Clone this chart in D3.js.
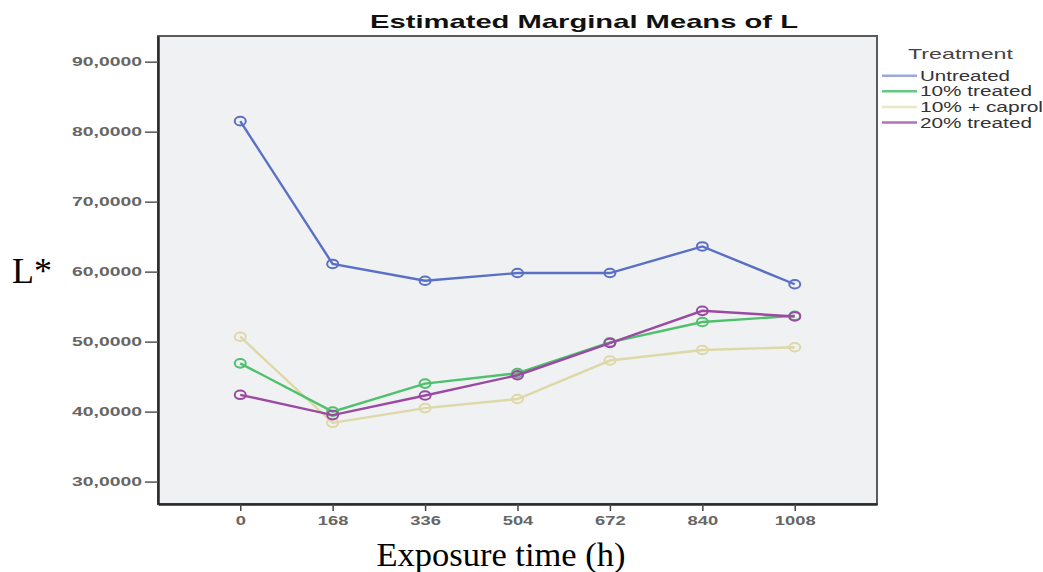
<!DOCTYPE html>
<html>
<head>
<meta charset="utf-8">
<script src="https://cdn.jsdelivr.net/npm/d3@7"></script>
<style>
  html, body { margin: 0; padding: 0; background: #ffffff; }
  svg { display: block; }
</style>
</head>
<body>
<svg id="chart" width="1043" height="572"></svg>
<script>
// Exposure times (h) on the x axis
const times = ["0", "168", "336", "504", "672", "840", "1008"];
// Treatment groups in legend order
const treatments = ["Untreated", "10% treated", "10% + caprol", "20% treated"];
// Estimated marginal means of L* per treatment
const untreated   = [81.5, 61.1, 58.7, 59.8, 59.8, 63.6, 58.2];
const treated10   = [46.9, 40.0, 44.0, 45.5, 49.9, 52.8, 53.7];
const caprol10    = [50.7, 38.4, 40.5, 41.8, 47.3, 48.8, 49.2];
const treated20   = [42.4, 39.5, 42.3, 45.2, 49.8, 54.4, 53.6];
const yTicks = [30, 40, 50, 60, 70, 80, 90];

const seriesValues = [untreated, treated10, caprol10, treated20];
const lineColors   = ["#5a6fc6", "#4fc06c", "#ddd8a6", "#9a4aa0"];
const legendColors = ["#9aa8da", "#66c884", "#ebe7c6", "#b272b8"];
const legendWidths = [90, 112, 123, 112];
const drawOrder = [0, 2, 1, 3];

const svg = d3.select("#chart");
const frame = { left: 158, top: 36, right: 877, bottom: 504 };

const x = d3.scalePoint().domain(times).range([frame.left, frame.right]).padding(0.89);
const y = d3.scaleLinear().domain([26.8, 93.67]).range([frame.bottom, frame.top]);

// fixed-width stretch for the wide sans labels
function stretch(sel, len) {
  sel.attr("textLength", len).attr("lengthAdjust", "spacingAndGlyphs");
}

// plot background
svg.append("rect")
  .attr("x", frame.left).attr("y", frame.top)
  .attr("width", frame.right - frame.left).attr("height", frame.bottom - frame.top)
  .attr("fill", "#f0f1f3")
  .attr("stroke", "#5a5a5a").attr("stroke-width", 2);

// title
const title = svg.append("text")
  .attr("x", 584).attr("y", 28)
  .attr("text-anchor", "middle")
  .attr("font-family", "Liberation Sans, Arial, sans-serif")
  .attr("font-weight", "bold").attr("font-size", 18.5)
  .attr("fill", "#111")
  .text("Estimated Marginal Means of L");
stretch(title, 428);

// y axis
const yAxis = svg.append("g")
  .attr("transform", `translate(${frame.left},0)`)
  .call(d3.axisLeft(y).tickValues(yTicks).tickSize(13).tickSizeOuter(0).tickPadding(3)
    .tickFormat(d => d3.format(".4f")(d).replace(".", ",")));
yAxis.select(".domain").attr("stroke", "#2a2a2a").attr("stroke-width", 2.5);
yAxis.selectAll(".tick line").attr("stroke", "#555").attr("stroke-width", 1.5);
yAxis.selectAll(".tick text")
  .attr("font-family", "Liberation Sans, Arial, sans-serif")
  .attr("font-weight", "bold").attr("font-size", 13)
  .attr("fill", "#666")
  .attr("textLength", 70).attr("lengthAdjust", "spacingAndGlyphs");

// x axis
const xAxis = svg.append("g")
  .attr("transform", `translate(0,${frame.bottom})`)
  .call(d3.axisBottom(x).tickSize(7).tickSizeOuter(0).tickPadding(5));
xAxis.select(".domain").attr("stroke", "#2a2a2a").attr("stroke-width", 2.5);
xAxis.selectAll(".tick line").attr("stroke", "#444").attr("stroke-width", 1.5);
xAxis.selectAll(".tick text")
  .attr("font-family", "Liberation Sans, Arial, sans-serif")
  .attr("font-weight", "bold").attr("font-size", 13)
  .attr("fill", "#666")
  .attr("textLength", d => d.length * 10.2).attr("lengthAdjust", "spacingAndGlyphs");

// lines and open-circle markers
const line = d3.line().x((d, i) => x(times[i])).y(d => y(d));
drawOrder.forEach(k => {
  const g = svg.append("g");
  g.append("path")
    .datum(seriesValues[k])
    .attr("d", line)
    .attr("fill", "none")
    .attr("stroke", lineColors[k])
    .attr("stroke-width", 2.4);
  g.selectAll("ellipse")
    .data(seriesValues[k])
    .join("ellipse")
    .attr("cx", (d, i) => x(times[i]))
    .attr("cy", d => y(d))
    .attr("rx", 5.5).attr("ry", 4.3)
    .attr("fill", "none")
    .attr("stroke", lineColors[k])
    .attr("stroke-width", 2);
});

// legend
const legend = svg.append("g");
const lt = legend.append("text")
  .attr("x", 908).attr("y", 59)
  .attr("font-family", "Liberation Sans, Arial, sans-serif")
  .attr("font-size", 15).attr("fill", "#444")
  .text("Treatment");
stretch(lt, 105);
treatments.forEach((name, i) => {
  const yy = 75.7 + i * 15.6;
  legend.append("line")
    .attr("x1", 882).attr("x2", 917)
    .attr("y1", yy).attr("y2", yy)
    .attr("stroke", legendColors[i]).attr("stroke-width", 2.5);
  const t = legend.append("text")
    .attr("x", 920).attr("y", yy + 5)
    .attr("font-family", "Liberation Sans, Arial, sans-serif")
    .attr("font-size", 14).attr("fill", "#333")
    .text(name);
  stretch(t, legendWidths[i]);
});

// axis titles
svg.append("text")
  .attr("x", 12).attr("y", 283)
  .attr("font-family", "Liberation Serif, Times New Roman, serif")
  .attr("font-size", 36).attr("fill", "#000")
  .text("L*");

svg.append("text")
  .attr("x", 501).attr("y", 566)
  .attr("text-anchor", "middle")
  .attr("font-family", "Liberation Serif, Times New Roman, serif")
  .attr("font-size", 34.5).attr("fill", "#000")
  .text("Exposure time (h)");
</script>
</body>
</html>
